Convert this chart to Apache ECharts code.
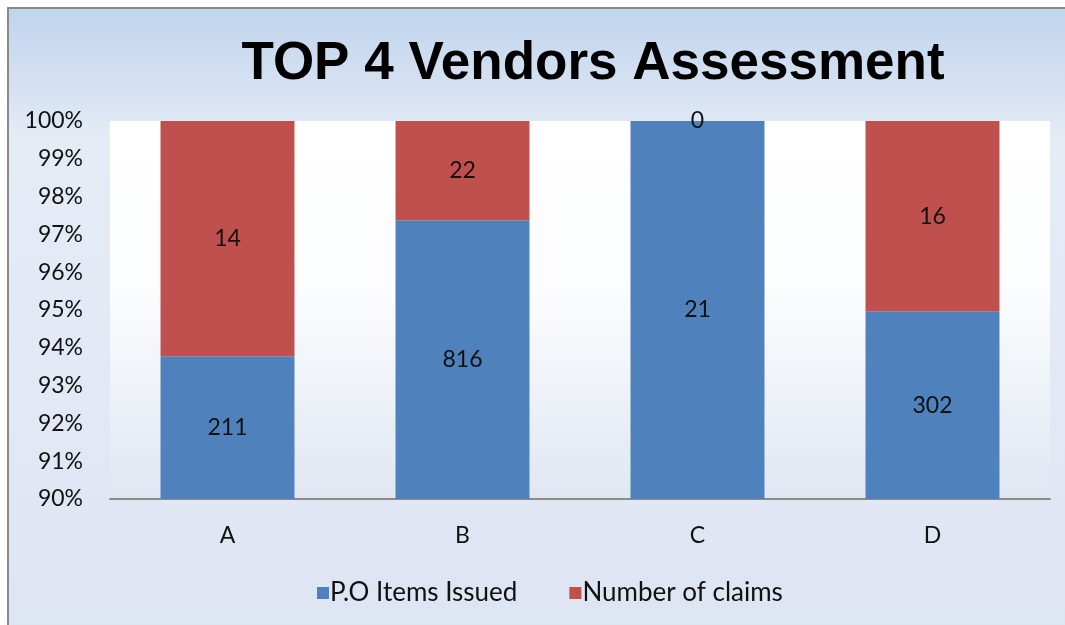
<!DOCTYPE html>
<html>
<head>
<meta charset="utf-8">
<script src="https://cdn.jsdelivr.net/npm/echarts@6/dist/echarts.min.js"></script>
<style>
  html, body { margin: 0; padding: 0; background: #ffffff; overflow: hidden; }
  #frame {
    position: absolute; left: 7px; top: 7px; width: 1056px; height: 616px;
    border-top: 2px solid #8a8a8a; border-left: 2px solid #8a8a8a;
    background: linear-gradient(to bottom, #c1d5ee 0px, #d8e3f2 90px, #e6ecf6 130px, #e2e8f4 400px, #dee5f2 616px);
  }
  #chart { position: absolute; left: 0; top: 0; width: 1065px; height: 625px; }
</style>
</head>
<body>
<div id="frame"></div>
<div id="chart"></div>
<script>
// raw counts per vendor
const vendors = ['A', 'B', 'C', 'D'];
const poItems = [211, 816, 21, 302];
const claims = [14, 22, 0, 16];
const yTicks = ['90%', '91%', '92%', '93%', '94%', '95%', '96%', '97%', '98%', '99%', '100%'];

// 100% stacked: share of each vendor total
const share = (arr, i) => arr[i] / (poItems[i] + claims[i]) * 100;
const poShare = vendors.map((v, i) => ({ value: share(poItems, i), raw: poItems[i] }));
const claimShare = vendors.map((v, i) => ({ value: share(claims, i), raw: claims[i] }));

const chart = echarts.init(document.getElementById('chart'));

const font = 'Lato, "Open Sans", sans-serif';

const labelStyle = {
  show: true,
  position: 'inside',
  color: '#111111',
  fontSize: 23,
  fontFamily: font,
  formatter: (p) => p.data.raw,
};

const option = {
  animation: false,
  backgroundColor: 'transparent',
  title: {
    text: 'TOP 4 Vendors Assessment',
    left: 588,
    top: 33,
    textAlign: 'center',
    textStyle: {
      fontFamily: '"Liberation Sans", Arial, sans-serif',
      fontWeight: 'bold',
      fontSize: 53,
      color: '#000000',
    },
  },
  grid: {
    left: 110,
    right: 15,
    top: 121,
    bottom: 126,
    show: true,
    borderWidth: 0,
    backgroundColor: new echarts.graphic.LinearGradient(0, 0, 0, 1, [
      { offset: 0, color: '#ffffff' },
      { offset: 0.45, color: '#fbfcfd' },
      { offset: 1, color: '#e0e7f2' },
    ]),
  },
  legend: {
    data: ['P.O Items Issued', 'Number of claims'],
    top: 575,
    left: 312,
    itemWidth: 12,
    itemHeight: 12,
    itemGap: 52,
    icon: 'rect',
    textStyle: {
      fontFamily: font,
      fontSize: 26,
      color: '#111111',
      padding: [0, 0, 0, -4],
    },
  },
  xAxis: {
    type: 'category',
    data: vendors,
    axisLine: { lineStyle: { color: '#8c8c8c', width: 2 } },
    axisTick: { show: false },
    axisLabel: {
      margin: 25,
      fontSize: 23,
      color: '#111111',
      fontFamily: font,
    },
  },
  yAxis: {
    type: 'value',
    min: 90,
    max: 100,
    interval: 1,
    axisLine: { show: false },
    axisTick: { show: false },
    splitLine: { show: false },
    axisLabel: {
      margin: 27,
      fontSize: 23,
      color: '#111111',
      fontFamily: font,
      formatter: (v) => yTicks[Math.round(v - 90)],
    },
  },
  series: [
    {
      name: 'P.O Items Issued',
      type: 'bar',
      stack: 'total',
      barWidth: '57%',
      itemStyle: { color: '#4f81bd' },
      label: labelStyle,
      data: poShare,
    },
    {
      name: 'Number of claims',
      type: 'bar',
      stack: 'total',
      barWidth: '57%',
      itemStyle: { color: '#c0504d' },
      label: labelStyle,
      data: claimShare,
    },
  ],
};

chart.setOption(option);
</script>
</body>
</html>
